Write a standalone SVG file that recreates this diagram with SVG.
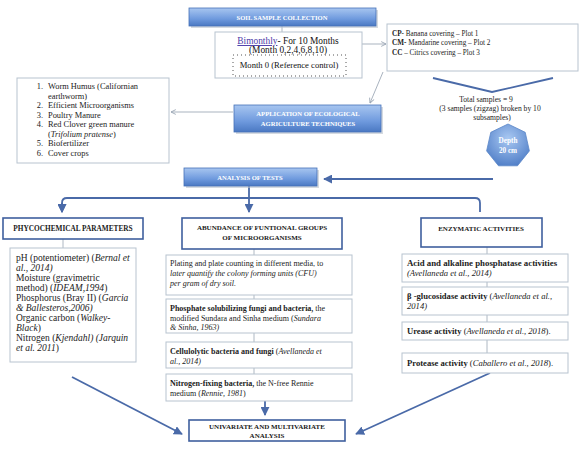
<svg xmlns="http://www.w3.org/2000/svg" width="580" height="453" viewBox="0 0 580 453">
<defs>
<linearGradient id="bg" x1="0" y1="0" x2="0" y2="1">
<stop offset="0" stop-color="#a8c6f0"/>
<stop offset="0.6" stop-color="#6f9ade"/>
<stop offset="1" stop-color="#4a78c2"/>
</linearGradient>
<radialGradient id="hg" cx="0.5" cy="0.35" r="0.7">
<stop offset="0" stop-color="#a9c8f2"/>
<stop offset="1" stop-color="#4d7cc6"/>
</radialGradient>
<marker id="ab" viewBox="0 0 10 10" refX="9" refY="5" markerWidth="5" markerHeight="5" orient="auto">
<path d="M0,0 L10,5 L0,10 Z" fill="#4a6aa8"/>
</marker>
<marker id="ag" viewBox="0 0 10 10" refX="9" refY="5" markerWidth="6" markerHeight="6" orient="auto">
<path d="M1,1 L9,5 L1,9" fill="none" stroke="#9aa6b4" stroke-width="1.5"/>
</marker>
</defs>
<style>
.bb{fill:url(#bg);stroke:#4672b8;stroke-width:0.8}
.sh{fill:#b9c2cc;opacity:0.6}
.wt{font-family:"Liberation Serif",serif;font-weight:bold;fill:#ffffff;font-size:6.6px;text-anchor:middle}
.hb{fill:#ffffff;stroke:#3f5f9e;stroke-width:1.6}
.ht{font-family:"Liberation Serif",serif;font-weight:bold;fill:#1a1a1a;font-size:7px;text-anchor:middle}
.db{fill:#ffffff;stroke:#b8c3cf;stroke-width:1}
.t{font-family:"Liberation Serif",serif;fill:#222222;font-size:8px}
.tc{font-family:"Liberation Serif",serif;fill:#222222;font-size:9.5px}
.bl{stroke:#4a6aa8;stroke-width:1.8;fill:none}
.gl{stroke:#a9b3bf;stroke-width:1;fill:none}
.cl{stroke:#9aa6b4;stroke-width:0.8;fill:none}
</style>

<g id="connectors">
<line class="cl" x1="282" y1="26" x2="282" y2="32"/>
<line class="gl" x1="362" y1="44" x2="386" y2="44" marker-end="url(#ag)"/>
<line class="gl" x1="383" y1="72" x2="370" y2="103" marker-end="url(#ag)"/>
<line class="gl" x1="233" y1="112" x2="171" y2="112" marker-end="url(#ag)"/>
<path class="bl" d="M433,78 L492,92 L553,78"/>
<line class="bl" x1="493" y1="179" x2="324" y2="179" marker-end="url(#ab)"/>
<path class="bl" d="M480,212 L480,203 Q480,198 475,198 L67,198 Q62,198 62,203 L62,212" marker-end="url(#ab)"/>
<path class="bl" d="M62,203 L62,212" marker-end="url(#ab)"/>
<line class="bl" x1="249" y1="186" x2="249" y2="212" marker-end="url(#ab)"/>
<line class="cl" x1="63" y1="239" x2="63" y2="248"/>
<line class="cl" x1="254" y1="249" x2="254" y2="374"/>
<line class="cl" x1="487" y1="247" x2="487" y2="353"/>
<line class="bl" x1="265" y1="401" x2="265" y2="415" marker-end="url(#ab)"/>
<line class="bl" x1="72" y1="377" x2="182" y2="434" marker-end="url(#ab)"/>
<line class="bl" x1="490" y1="373" x2="356" y2="434" marker-end="url(#ab)"/>
</g>

<g id="soil-sample-collection">
<rect class="sh" x="191" y="10" width="187" height="18"/>
<rect class="bb" x="189" y="8" width="187" height="18"/>
<text class="wt" x="282" y="20">SOIL SAMPLE COLLECTION</text>
</g>

<g id="bimonthly">
<rect class="db" x="215" y="32" width="147" height="46"/>
<rect x="233" y="55" width="113" height="21" fill="none" stroke="#555" stroke-width="1" stroke-dasharray="1,3"/>
<text class="tc" x="288" y="44" text-anchor="middle" style="font-size:9.4px;fill:#111"><tspan fill="#4b3aa8" text-decoration="underline">Bimonthly</tspan>- For 10 Months</text>
<text class="tc" x="288" y="52.5" text-anchor="middle" style="font-size:9.4px;fill:#111">(Month 0,2,4,6,8,10)</text>
<text class="tc" x="289" y="68" text-anchor="middle" style="font-size:8.6px;fill:#111">Month 0 (Reference control)</text>
</g>

<g id="plots">
<rect class="db" x="387" y="24" width="191" height="47"/>
<text class="t" x="392" y="36" style="font-size:7.2px"><tspan font-weight="bold">CP</tspan>- Banana covering – Plot 1</text>
<text class="t" x="392" y="45" style="font-size:7.2px"><tspan font-weight="bold">CM-</tspan> Mandarine covering – Plot 2</text>
<text class="t" x="392" y="55" style="font-size:7.2px"><tspan font-weight="bold">CC</tspan> – Citrics covering  – Plot 3</text>
</g>

<g id="total-samples">
<text class="t" x="486" y="102" text-anchor="middle" style="font-size:7.6px">Total samples = 9</text>
<text class="t" x="490" y="111" text-anchor="middle" style="font-size:7.6px">(3 samples (zigzag)  broken by 10</text>
<text class="t" x="492" y="120" text-anchor="middle" style="font-size:7.6px">subsamples)</text>
</g>

<g id="depth">
<polygon points="508,124 525.2,132.3 529.4,150.9 517.5,165.8 498.5,165.8 486.6,150.9 490.8,132.3" fill="url(#hg)" stroke="#5a86c8" stroke-width="0.8"/>
<text class="wt" x="508" y="143" style="font-size:7.2px">Depth</text>
<text class="wt" x="508" y="153" style="font-size:7.2px">20 cm</text>
</g>

<g id="application">
<rect class="sh" x="236" y="107" width="147" height="27"/>
<rect class="bb" x="234" y="105" width="147" height="27"/>
<text class="wt" x="308" y="116">APPLICATION OF ECOLOGICAL</text>
<text class="wt" x="308" y="126">AGRICULTURE TECHNIQUES</text>
</g>

<g id="techniques">
<rect class="db" x="17" y="78" width="152" height="85"/>
<g class="t" style="font-size:8.4px">
<text x="43" y="89" text-anchor="end">1.</text><text x="48" y="89">Worm Humus (Californian</text>
<text x="48" y="98.5">earthworm)</text>
<text x="43" y="108" text-anchor="end">2.</text><text x="48" y="108">Efficient Microorganisms</text>
<text x="43" y="117.5" text-anchor="end">3.</text><text x="48" y="117.5">Poultry Manure</text>
<text x="43" y="127" text-anchor="end">4.</text><text x="48" y="127">Red Clover green manure</text>
<text x="48" y="136.5">(<tspan font-style="italic">Trifolium pratense</tspan>)</text>
<text x="43" y="146" text-anchor="end">5.</text><text x="48" y="146">Biofertilizer</text>
<text x="43" y="156" text-anchor="end">6.</text><text x="48" y="156">Cover crops</text>
</g>
</g>

<g id="analysis-of-tests">
<rect class="sh" x="186" y="170" width="133" height="18"/>
<rect class="bb" x="184" y="168" width="133" height="18"/>
<text class="wt" x="250" y="180">ANALYSIS OF TESTS</text>
</g>

<g id="phycochemical">
<rect class="hb" x="3" y="218" width="140" height="21"/>
<text class="ht" x="73" y="231" style="font-size:7.3px">PHYCOCHEMICAL PARAMETERS</text>
</g>
<g id="phycochemical-details">
<rect class="db" x="10" y="248" width="126" height="114"/>
<g class="tc">
<text x="16" y="261">pH (potentiometer) (<tspan font-style="italic">Bernal et</tspan></text>
<text x="16" y="271" font-style="italic">al., 2014)</text>
<text x="16" y="281">Moisture (gravimetric</text>
<text x="16" y="291">method) (<tspan font-style="italic">IDEAM,1994</tspan>)</text>
<text x="16" y="301">Phosphorus (Bray II) (<tspan font-style="italic">Garcia</tspan></text>
<text x="16" y="311" font-style="italic">&amp; Ballesteros,2006)</text>
<text x="16" y="321">Organic carbon (<tspan font-style="italic">Walkey-</tspan></text>
<text x="16" y="331"><tspan font-style="italic">Black</tspan>)</text>
<text x="16" y="341">Nitrogen (<tspan font-style="italic">Kjendahl) (Jarquin</tspan></text>
<text x="16" y="351"><tspan font-style="italic">et al. 2011</tspan>)</text>
</g>
</g>

<g id="abundance">
<rect class="hb" x="182" y="218" width="160" height="31"/>
<text class="ht" x="262" y="230">ABUNDANCE OF FUNTIONAL GROUPS</text>
<text class="ht" x="262" y="240">OF MICROORGANISMS</text>
</g>
<g id="abundance-plating">
<rect class="db" x="166" y="255" width="186" height="40"/>
<text class="t" x="170" y="266">Plating and plate counting in different media, to</text>
<text class="t" x="170" y="276" font-style="italic">later quantify the colony forming units (CFU)</text>
<text class="t" x="170" y="286" font-style="italic">per gram of dry soil.</text>
</g>
<g id="abundance-phosphate">
<rect class="db" x="166" y="299" width="186" height="34"/>
<text class="t" x="170" y="311"><tspan font-weight="bold">Phosphate solubilizing fungi and bacteria,</tspan> the</text>
<text class="t" x="170" y="321">modified Sundara and Sinha medium (<tspan font-style="italic">Sundara</tspan></text>
<text class="t" x="170" y="330" font-style="italic">&amp; Sinha, 1963)</text>
</g>
<g id="abundance-cellulolytic">
<rect class="db" x="166" y="342" width="186" height="26"/>
<text class="t" x="170" y="354"><tspan font-weight="bold">Cellulolytic bacteria and fungi</tspan> (<tspan font-style="italic">Avellaneda et</tspan></text>
<text class="t" x="170" y="364" font-style="italic">al., 2014)</text>
</g>
<g id="abundance-nitrogen">
<rect class="db" x="166" y="374" width="186" height="27"/>
<text class="t" x="170" y="386"><tspan font-weight="bold">Nitrogen-fixing bacteria,</tspan> the N-free Rennie</text>
<text class="t" x="170" y="396">medium (<tspan font-style="italic">Rennie, 1981</tspan>)</text>
</g>

<g id="enzymatic">
<rect class="hb" x="421" y="218" width="121" height="29"/>
<text class="ht" x="481" y="231">ENZYMATIC ACTIVITIES</text>
</g>
<g id="enzyme-phosphatase">
<rect class="db" x="402" y="254" width="166" height="28"/>
<text class="t" x="407" y="266" style="font-size:8.8px" font-weight="bold">Acid and alkaline phosphatase activities</text>
<text class="t" x="407" y="276" style="font-size:8.6px" font-style="italic">(Avellaneda et al., 2014)</text>
</g>
<g id="enzyme-glucosidase">
<rect class="db" x="402" y="287" width="166" height="28"/>
<text class="t" x="407" y="299" style="font-size:8.6px"><tspan font-weight="bold">β -glucosidase activity</tspan> (<tspan font-style="italic">Avellaneda et al.,</tspan></text>
<text class="t" x="407" y="309" style="font-size:8.6px" font-style="italic">2014)</text>
</g>
<g id="enzyme-urease">
<rect class="db" x="402" y="322" width="166" height="18"/>
<text class="t" x="407" y="334" style="font-size:8.6px"><tspan font-weight="bold">Urease activity</tspan> (<tspan font-style="italic">Avellaneda et al., 2018</tspan>).</text>
</g>
<g id="enzyme-protease">
<rect class="db" x="402" y="353" width="166" height="20"/>
<text class="t" x="407" y="366" style="font-size:8.6px"><tspan font-weight="bold">Protease activity</tspan> (<tspan font-style="italic">Caballero et al., 2018</tspan>).</text>
</g>

<g id="univariate">
<rect class="hb" x="189" y="420" width="156" height="21"/>
<text class="ht" x="267" y="429">UNIVARIATE AND MULTIVARIATE</text>
<text class="ht" x="267" y="438">ANALYSIS</text>
</g>
</svg>
